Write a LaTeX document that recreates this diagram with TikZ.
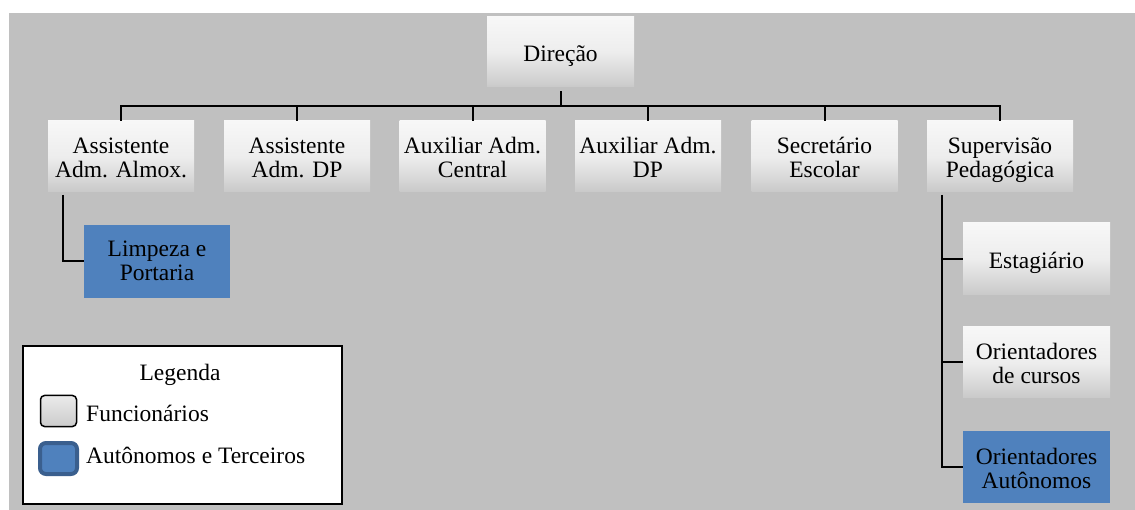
\documentclass[tikz,border=0pt]{standalone}
\usepackage{fontspec}
\setmainfont{Liberation Serif}
\definecolor{bggray}{HTML}{C0C0C0}
\definecolor{boxblue}{HTML}{4F81BD}
\definecolor{darkblue}{HTML}{3A5F8E}
\newcommand{\topstrut}{\rule{0pt}{24pt}}
\newcommand{\botstrut}{\rule[-5pt]{0pt}{5pt}}
\begin{document}
\begin{tikzpicture}[x=1pt,y=-1pt,
  every node/.style={font=\fontsize{23.5}{24}\selectfont, align=center, inner sep=0pt,
    execute at begin node=\topstrut, execute at end node=\botstrut},
  two/.style={text height=43pt, text depth=0pt},
  emp/.style={minimum width=146pt, minimum height=71pt, top color=white!97!black, bottom color=black!21, middle color=white!93!black, shading angle=0},
  aut/.style={minimum width=146pt, minimum height=72pt, fill=boxblue},
  conn/.style={draw=black, line width=2pt},
  legbox/.style={draw=black, line width=1.2pt, fill=white}]
\useasboundingbox (0,0) rectangle (1135,510);
\fill[white] (0,0) rectangle (1135,510);
\fill[bggray] (9,13) rectangle (1135,510);
% nodes
\node[emp, minimum width=147pt, minimum height=70pt] (dir) at (560.5,52) {Direção};
\node[emp, two] (a1) at (121,156.5) {Assistente\\Adm. Almox.};
\node[emp, two] (a2) at (297,156.5) {Assistente\\Adm. DP};
\node[emp, two] (a3) at (472.5,156.5) {Auxiliar Adm.\\Central};
\node[emp, two] (a4) at (648,156.5) {Auxiliar Adm.\\DP};
\node[emp, two] (a5) at (824.5,156.5) {Secretário\\Escolar};
\node[emp, two] (a6) at (1000,156.5) {Supervisão\\Pedagógica};
\node[aut, two, text height=39pt, minimum height=73pt] (lp) at (157,261.5) {Limpeza e\\Portaria};
\node[emp, minimum width=147pt, minimum height=72pt] (est) at (1036.5,259) {Estagiário};
\node[emp, two, minimum width=147pt, minimum height=71pt] (oc) at (1036.5,362.5) {Orientadores\\de cursos};
\node[aut, two, minimum width=147pt] (oa) at (1036.5,467) {Orientadores\\Autônomos};
% connectors
\coordinate (bar) at (560.5,106);
\draw[conn] (dir.south) ++(0,4) -- (bar);
\draw[conn] (a1.north) |- (bar) -| (a6.north);
\foreach \n in {a2,a3,a4,a5}{\draw[conn] (\n.north) -- (\n.north |- bar);}
\coordinate (lpt) at (63,195);
\draw[conn] (lpt) |- (lp.west);
\coordinate (spt) at (942,195);
\draw[conn] (spt) |- (oa.west);
\draw[conn] (spt |- est.west) -- (est.west);
\draw[conn] (spt |- oc.west) -- (oc.west);
% legend
\node[legbox, minimum width=319pt, minimum height=158pt] (leg) at (182.5,425) {};
\node (legt) at (180,371) {Legenda};
\node[draw=black, line width=1.5pt, rounded corners=4pt, minimum width=36pt, minimum height=31pt, top color=white!92!black, bottom color=black!20, execute at begin node={}, execute at end node={}] (li1) at (58.5,411) {};
\node[anchor=west] (lt1) at (86,412) {Funcionários};
\node[draw=darkblue, line width=4pt, rounded corners=6pt, fill=boxblue, minimum width=37pt, minimum height=31pt, execute at begin node={}, execute at end node={}] (li2) at (58.5,458.5) {};
\node[anchor=west] (lt2) at (86,454) {Autônomos e Terceiros};
\end{tikzpicture}
\end{document}
